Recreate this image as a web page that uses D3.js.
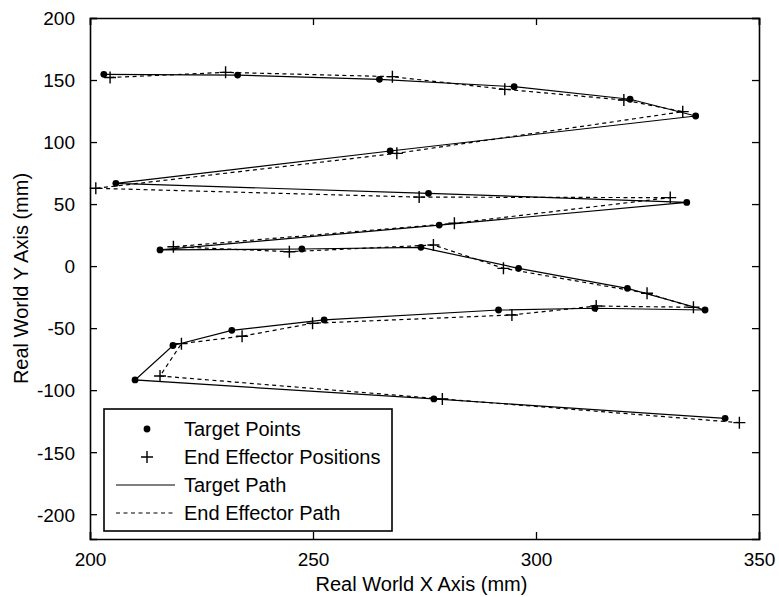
<!DOCTYPE html>
<html>
<head>
<meta charset="utf-8">
<script src="https://cdn.jsdelivr.net/npm/d3@7"></script>
<style>
  html, body { margin: 0; padding: 0; background: #fff; }
  svg { display: block; }
  text { font-family: "Liberation Sans", Arial, Helvetica, sans-serif; fill: #000; }
</style>
</head>
<body>
<svg id="chart" width="779" height="597"></svg>
<script>
// Target points of the planned path (mm), in path order
const targetX = [203.1, 233.1, 264.9, 295.1, 321.1, 335.8, 267.3, 205.8, 275.9, 333.8,
                 278.3, 215.7, 247.5, 274.2, 296.1, 320.5, 337.9, 313.2, 291.6, 252.5,
                 231.8, 218.6, 210.1, 277.1, 342.4];
const targetY = [154.6, 154.0, 150.6, 144.6, 134.5, 121.0, 92.8, 66.7, 58.7, 51.3,
                 33.1, 13.0, 13.8, 15.1, -1.8, -17.9, -35.4, -34.0, -35.4, -43.4,
                 -51.8, -64.0, -91.8, -107.1, -122.7];

// Measured end effector positions (mm), one per target point
const effectorX = [204.5, 230.4, 267.8, 293.0, 319.7, 332.9, 268.8, 201.3, 273.8, 330.1,
                   281.7, 218.7, 244.7, 277.0, 292.7, 324.9, 335.3, 313.5, 294.6, 249.9,
                   234.1, 220.5, 215.7, 279.0, 345.6];
const effectorY = [152.0, 156.2, 152.7, 142.5, 133.9, 124.5, 90.9, 62.7, 55.6, 55.2,
                   34.5, 15.6, 11.6, 17.0, -1.8, -21.9, -33.2, -32.2, -39.4, -46.1,
                   -56.5, -62.5, -88.6, -107.1, -126.2];

// Axis limits and ticks
const xDomain = [200, 350];
const yDomain = [-220, 200];
const xTicks = [200, 250, 300, 350];
const yTicks = [-200, -150, -100, -50, 0, 50, 100, 150, 200];

const legendLabels = ["Target Points", "End Effector Positions", "Target Path", "End Effector Path"];

const svg = d3.select("#chart");
const plot = { left: 90, right: 759, top: 18, bottom: 539 };

const x = d3.scaleLinear().domain(xDomain).range([plot.left, plot.right]);
const y = d3.scaleLinear().domain(yDomain).range([plot.bottom, plot.top]);

const tickLen = 7;
const tickFont = "19px";
// plain ASCII hyphen for negative numbers
const fmt = d => String(d);

// Bottom axis (ticks inside) and mirrored top axis
const xAxisBottom = svg.append("g")
  .attr("transform", `translate(0,${plot.bottom})`)
  .call(d3.axisBottom(x).tickValues(xTicks).tickSize(-tickLen).tickPadding(tickLen + 6).tickFormat(fmt));
const xAxisTop = svg.append("g")
  .attr("transform", `translate(0,${plot.top})`)
  .call(d3.axisTop(x).tickValues(xTicks).tickSize(-tickLen).tickFormat(""));

// Left axis (ticks inside) and mirrored right axis
const yAxisLeft = svg.append("g")
  .attr("transform", `translate(${plot.left},0)`)
  .call(d3.axisLeft(y).tickValues(yTicks).tickSize(-tickLen).tickPadding(tickLen + 8).tickFormat(fmt));
const yAxisRight = svg.append("g")
  .attr("transform", `translate(${plot.right},0)`)
  .call(d3.axisRight(y).tickValues(yTicks).tickSize(-tickLen).tickFormat(""));

[xAxisBottom, xAxisTop, yAxisLeft, yAxisRight].forEach(g => {
  g.select(".domain").attr("stroke", "#000").attr("stroke-width", 1.6);
  g.selectAll(".tick line").attr("stroke", "#000").attr("stroke-width", 1.3);
  g.selectAll(".tick text")
    .style("font-size", tickFont)
    .style("font-family", '"Liberation Sans", Arial, sans-serif')
    .attr("fill", "#000");
});
xAxisBottom.selectAll(".tick text").attr("dy", "0.72em");
yAxisLeft.selectAll(".tick text").attr("dy", "0.36em");

// Axis titles
svg.append("text")
  .attr("x", (plot.left + plot.right) / 2 - 3)
  .attr("y", 591)
  .attr("text-anchor", "middle")
  .style("font-size", "20px")
  .text("Real World X Axis (mm)");

svg.append("text")
  .attr("transform", `translate(28,${(plot.top + plot.bottom) / 2}) rotate(-90)`)
  .attr("text-anchor", "middle")
  .style("font-size", "20px")
  .text("Real World Y Axis (mm)");

// Series data as point objects
const targets = targetX.map((v, i) => ({ x: v, y: targetY[i] }));
const effectors = effectorX.map((v, i) => ({ x: v, y: effectorY[i] }));

const line = d3.line().x(d => x(d.x)).y(d => y(d.y));

const g = svg.append("g");

// Target path (solid)
g.append("path")
  .datum(targets)
  .attr("d", line)
  .attr("fill", "none")
  .attr("stroke", "#000")
  .attr("stroke-width", 1.2);

// End effector path (dashed)
g.append("path")
  .datum(effectors)
  .attr("d", line)
  .attr("fill", "none")
  .attr("stroke", "#000")
  .attr("stroke-width", 1.2)
  .attr("stroke-dasharray", "4,3.5");

// Target points
g.selectAll("circle.target")
  .data(targets)
  .join("circle")
  .attr("class", "target")
  .attr("cx", d => x(d.x))
  .attr("cy", d => y(d.y))
  .attr("r", 3.4)
  .attr("fill", "#000");

// End effector positions (plus markers)
const plusSize = 6;
const plus = d => `M${x(d.x) - plusSize},${y(d.y)}H${x(d.x) + plusSize}M${x(d.x)},${y(d.y) - plusSize}V${y(d.y) + plusSize}`;
g.selectAll("path.effector")
  .data(effectors)
  .join("path")
  .attr("class", "effector")
  .attr("d", plus)
  .attr("stroke", "#000")
  .attr("stroke-width", 1.4)
  .attr("fill", "none");

// Legend box
const legend = svg.append("g");
legend.append("rect")
  .attr("x", 104).attr("y", 409)
  .attr("width", 288).attr("height", 122)
  .attr("fill", "#fff")
  .attr("stroke", "#000")
  .attr("stroke-width", 1.6);

const rowY = [429, 457, 485, 513];
const sampleX0 = 116, sampleX1 = 175, markX = 147, textX = 184;

legend.append("circle").attr("cx", markX).attr("cy", rowY[0]).attr("r", 3.4).attr("fill", "#000");
legend.append("path")
  .attr("d", `M${markX - plusSize},${rowY[1]}H${markX + plusSize}M${markX},${rowY[1] - plusSize}V${rowY[1] + plusSize}`)
  .attr("stroke", "#000").attr("stroke-width", 1.4);
legend.append("line")
  .attr("x1", sampleX0).attr("x2", sampleX1).attr("y1", rowY[2]).attr("y2", rowY[2])
  .attr("stroke", "#000").attr("stroke-width", 1.2);
legend.append("line")
  .attr("x1", sampleX0).attr("x2", sampleX1).attr("y1", rowY[3]).attr("y2", rowY[3])
  .attr("stroke", "#000").attr("stroke-width", 1.2).attr("stroke-dasharray", "4,3.5");

legend.selectAll("text.lbl")
  .data(legendLabels)
  .join("text")
  .attr("class", "lbl")
  .attr("x", textX)
  .attr("y", (d, i) => rowY[i])
  .attr("dy", "0.36em")
  .style("font-size", "20px")
  .text(d => d);
</script>
</body>
</html>
